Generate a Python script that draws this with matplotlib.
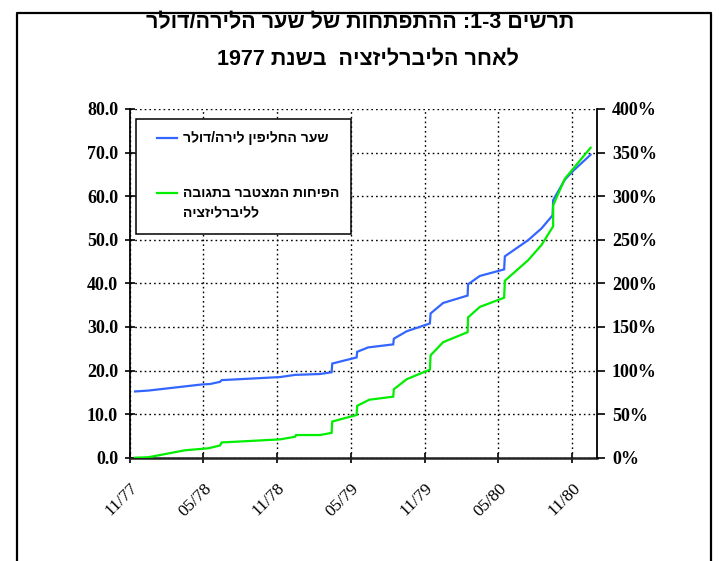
import re

import matplotlib
matplotlib.use("Agg")
import matplotlib.pyplot as plt
from matplotlib.lines import Line2D
from matplotlib.patches import Rectangle
from matplotlib.ticker import FixedLocator, FuncFormatter

# months counted from November 1977
blue_months = [0.45, 1.53, 5.87, 6.54, 7.36, 7.50, 12.24, 13.46, 15.49, 16.44,
               16.49, 18.47, 18.52, 19.41, 21.45, 21.50, 22.54, 24.43, 24.49,
               25.51, 27.50, 27.54, 28.50, 30.47, 30.53, 32.42, 33.51, 34.41,
               34.46, 35.41, 36.08, 37.50]
# lira per dollar
rate = [15.2, 15.4, 16.8, 16.9, 17.4, 17.8, 18.5, 19.0, 19.2, 19.6,
        21.6, 23.0, 24.3, 25.3, 26.0, 27.3, 29.0, 30.8, 33.1,
        35.5, 37.2, 39.8, 41.7, 43.2, 46.2, 49.9, 52.6, 55.6,
        59.1, 63.8, 65.8, 69.5]

green_months = [0.45, 1.53, 4.51, 6.41, 7.36, 7.50, 12.24, 13.46, 13.54,
                15.49, 16.44, 16.49, 18.47, 18.52, 19.50, 21.45, 21.50, 22.54,
                24.43, 24.49, 25.51, 27.50, 27.54, 28.50, 30.47, 30.53, 32.42,
                33.51, 34.46, 34.46, 35.41, 37.50]
# cumulative devaluation, percent
devaluation = [0, 0.5, 8.5, 10.8, 14, 17.5, 21, 24, 26,
               26, 28.5, 41.5, 49, 59.5, 66.5, 70, 78.5, 90,
               101, 117.5, 132.5, 144, 161, 173, 183.5, 203, 226.5,
               244, 265.5, 289.5, 320, 355.5]

tick_months = [0, 6, 12, 18, 24, 30, 36]
tick_labels = ["11/77", "05/78", "11/78", "05/79", "11/79", "05/80", "11/80"]

title_lines = ["תרשים 1-3: ההתפתחות של שער הלירה/דולר",
               "לאחר הליברליזציה  בשנת 1977"]
rate_label = "שער החליפין לירה/דולר"
deval_label = ["הפיחות המצטבר בתגובה", "לליברליזציה"]

BLUE = "#3366ff"
GREEN = "#00ee00"
W, H = 728, 561
SERIF = ["Liberation Serif", "DejaVu Serif"]
SANS = ["Liberation Sans", "DejaVu Sans"]


def rtl(text):
    # matplotlib lays text out left to right, so flip it and restore numbers
    rev = text[::-1]
    return re.sub(r"[0-9][0-9\-]*[0-9]|[0-9]", lambda m: m.group(0)[::-1], rev)


def fx(px):
    return px / W


def fy(py):
    return 1 - py / H


fig = plt.figure(figsize=(W / 100, H / 100), dpi=100)
ax = fig.add_axes([fx(129.5), fy(457.7), (596.7 - 129.5) / W, (457.7 - 109) / H])
ax2 = ax.twinx()

ax.plot(blue_months, rate, color=BLUE, lw=1.6, solid_joinstyle="miter")
ax2.plot(green_months, devaluation, color=GREEN, lw=1.6, solid_joinstyle="miter")

ax.set_xlim(0, 38)
ax.set_ylim(0, 80)
ax2.set_ylim(0, 400)

ax.xaxis.set_major_locator(FixedLocator(tick_months))
ax.set_xticklabels(tick_labels, rotation=45, ha="right", va="top",
                   rotation_mode="anchor", family=SERIF, fontsize=12.5)

ax.yaxis.set_major_locator(FixedLocator(range(0, 81, 10)))
ax.yaxis.set_major_formatter(FuncFormatter(lambda v, p: f"{v:.1f}"))
ax2.yaxis.set_major_locator(FixedLocator(range(0, 401, 50)))
ax2.yaxis.set_major_formatter(FuncFormatter(lambda v, p: f"{v:.0f}%"))

for lbl in ax.get_yticklabels() + ax2.get_yticklabels():
  lbl.set_family(SERIF)
  lbl.set_fontweight("bold")
  lbl.set_fontsize(13)

ax.tick_params(axis="y", direction="inout", length=6.5, width=1.2, pad=5)
ax.tick_params(axis="x", direction="inout", length=6.5, width=1.2, pad=13)
ax2.tick_params(axis="y", direction="out", length=6, width=1.2, pad=5)

ax.grid(True, color="black", linestyle=(0, (1.2, 2.2)), linewidth=1)
ax.set_axisbelow(True)

for a in (ax, ax2):
  a.spines["top"].set_visible(False)
ax.spines["right"].set_visible(False)
ax2.spines["left"].set_visible(False)
ax2.spines["bottom"].set_visible(False)
ax.spines["left"].set_linewidth(1.3)
ax.spines["bottom"].set_linewidth(1.8)
ax.spines["bottom"].set_color("#222222")
ax2.spines["right"].set_linewidth(1.3)

# chart title
title_font = dict(family=SANS, fontweight="bold", fontsize=15.5,
                  ha="center", va="center")
fig.text(fx(360), fy(23), rtl(title_lines[0]), **title_font)
fig.text(fx(368), fy(60), rtl(title_lines[1]), **title_font)

# legend box
fig.add_artist(Rectangle((fx(136), fy(234)), fx(351) - fx(136), fy(119) - fy(234),
                         transform=fig.transFigure, facecolor="white",
                         edgecolor="black", lw=1.1, zorder=5))
leg_font = dict(family=SANS, fontweight="bold", fontsize=10,
                ha="left", va="center", zorder=6)
fig.add_artist(Line2D([fx(157), fx(177)], [fy(138), fy(138)], color=BLUE, lw=1.6,
                      transform=fig.transFigure, zorder=6))
fig.text(fx(183), fy(138), rtl(rate_label), **leg_font)
fig.add_artist(Line2D([fx(157), fx(177)], [fy(193), fy(193)], color=GREEN, lw=1.6,
                      transform=fig.transFigure, zorder=6))
fig.text(fx(183), fy(193), rtl(deval_label[0]), **leg_font)
fig.text(fx(183), fy(213), rtl(deval_label[1]), **leg_font)

# outer frame of the chart
fig.add_artist(Line2D([fx(17), fx(17), fx(711), fx(711)],
                      [fy(561), fy(13), fy(13), fy(561)],
                      color="black", lw=1.6, transform=fig.transFigure))

fig.savefig("out.png", dpi=100)
